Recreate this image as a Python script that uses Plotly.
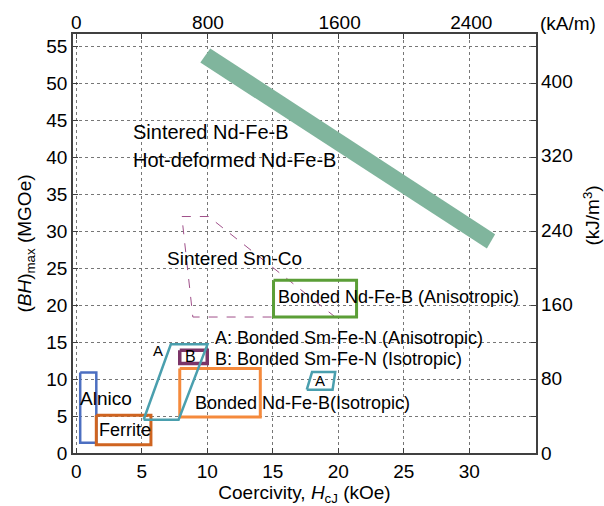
import plotly.graph_objects as go

# ---- data (kOe, MGOe) ----
nd_sint_x = [10.23, 31.98, 31.35, 9.47]
nd_sint_y = [54.75, 29.6, 27.66, 52.85]

smco_x = [8.06, 10.1, 19.77, 8.9, 8.06]
smco_y = [32.0, 32.0, 18.4, 18.4, 32.0]

nd_aniso_x = [15.06, 21.4, 21.4, 15.06, 15.06]
nd_aniso_y = [23.37, 23.37, 18.4, 18.4, 23.37]

alnico_x = [0.3, 1.53, 1.53, 0.3, 0.3]
alnico_y = [10.9, 10.9, 1.4, 1.4, 10.9]

ferrite_x = [1.53, 5.7, 5.7, 1.53, 1.53]
ferrite_y = [5.1, 5.1, 1.12, 1.12, 5.1]

nd_iso_x = [7.9, 14.05, 14.05, 7.9, 7.9]
nd_iso_y = [11.45, 11.45, 4.87, 4.87, 11.45]

smfen_b_x = [7.9, 10.0, 10.0, 7.9, 7.9]
smfen_b_y = [13.9, 13.9, 12.1, 12.1, 13.9]

smfen_a_x = [5.14, 7.22, 10.02, 7.81, 5.14]
smfen_a_y = [4.5, 14.7, 14.7, 4.5, 4.5]

smfen_a2_x = [17.6, 18.0, 19.77, 19.57, 17.6]
smfen_a2_y = [8.57, 10.95, 10.95, 8.57, 8.57]

x_ticks = [0, 5, 10, 15, 20, 25, 30]
y_ticks = [0, 5, 10, 15, 20, 25, 30, 35, 40, 45, 50, 55]
top_ticks = [0, 800, 1600, 2400]          # kA/m
right_ticks = [0, 80, 160, 240, 320, 400]  # kJ/m3

KOE_TO_KAM = 79.577
MGOE_TO_KJM3 = 7.9577
x_range = [-0.25, 35.1]
y_range = [0, 56.7]

FONT = "Liberation Sans, Arial, sans-serif"

fig = go.Figure()

fig.add_trace(go.Scatter(x=nd_sint_x, y=nd_sint_y, fill="toself", fillcolor="#80b59d",
                         line=dict(width=0, color="#80b59d"), mode="lines", hoverinfo="skip"))
fig.add_trace(go.Scatter(x=smco_x, y=smco_y, mode="lines",
                         line=dict(color="#a0508a", width=1, dash="dash")))

def box(xs, ys, color, w):
    fig.add_trace(go.Scatter(x=xs, y=ys, mode="lines", line=dict(color=color, width=w)))

box(nd_aniso_x, nd_aniso_y, "#5b9e37", 3)
box(alnico_x, alnico_y, "#4c6fc1", 2.5)
box(ferrite_x, ferrite_y, "#cf6420", 3)
box(nd_iso_x, nd_iso_y, "#f58a3c", 3)
box(smfen_b_x, smfen_b_y, "#7b3568", 3.5)
box(smfen_a_x, smfen_a_y, "#4a9fae", 2.5)
box(smfen_a2_x, smfen_a2_y, "#4a9fae", 2.5)

# invisible trace to activate secondary axes
fig.add_trace(go.Scatter(x=[None], y=[None], xaxis="x2", yaxis="y2", showlegend=False))

def ann(text, x, y, size=19, anchor="left"):
    fig.add_annotation(text=text, x=x, y=y, xref="x", yref="y", showarrow=False,
                       xanchor=anchor, yanchor="middle", font=dict(size=size, color="black", family=FONT))

ann("Sintered Nd-Fe-B", 4.2, 43.5, 20)
ann("Hot-deformed Nd-Fe-B", 4.2, 39.6, 20)
ann("Sintered Sm-Co", 6.8, 26.3, 19)
ann("Bonded Nd-Fe-B (Anisotropic)", 15.27, 21.05, 18)
ann("A: Bonded Sm-Fe-N (Anisotropic)", 10.46, 15.5, 18)
ann("B: Bonded Sm-Fe-N (Isotropic)", 10.46, 12.67, 18)
ann("A", 6.26, 13.9, 15, "center")
ann("B", 8.7, 13.1, 16, "center")
ann("A", 18.63, 9.8, 15, "center")
ann("Alnico", 0.15, 7.4, 19)
ann("Ferrite", 1.6, 3.06, 18)
ann("Bonded Nd-Fe-B(Isotropic)", 8.93, 6.7, 18)

fig.add_annotation(text="(kA/m)", xref="paper", yref="paper", x=1.069, y=1.0, yshift=11,
                   xanchor="center", yanchor="middle", showarrow=False,
                   font=dict(size=19, color="black", family=FONT))
fig.add_annotation(text="(kJ/m<sup>3</sup>)", xref="paper", yref="paper", x=1.0, xshift=55, y=0.5, yshift=28,
                   xanchor="center", yanchor="middle", showarrow=False, textangle=-90,
                   font=dict(size=19, color="black", family=FONT))

axis_common = dict(showline=True, linecolor="#404040", linewidth=1.5, automargin=False,
                   tickfont=dict(size=19, color="black", family=FONT), zeroline=False)

fig.update_layout(
    width=604, height=506,
    margin=dict(l=73, r=68, t=34, b=53),
    paper_bgcolor="white", plot_bgcolor="white",
    showlegend=False,
    font=dict(family=FONT, color="black"),
    xaxis=dict(range=x_range, tickvals=x_ticks, ticks="inside", ticklen=5, tickcolor="#404040",
               mirror="ticks", showgrid=True, gridcolor="#777777", griddash="dot", gridwidth=1,
               title=dict(text="Coercivity, <i>H</i><sub>cJ</sub> (kOe)",
                          font=dict(size=19, family=FONT, color="black"), standoff=4),
               **axis_common),
    yaxis=dict(range=y_range, tickvals=y_ticks, ticks="inside", ticklen=5, tickcolor="#404040",
               mirror="ticks", showgrid=True, gridcolor="#777777", griddash="dot", gridwidth=1,
               title=dict(text="(<i>BH</i>)<sub>max</sub> (MGOe)",
                          font=dict(size=19, family=FONT, color="black"), standoff=10),
               **axis_common),
    xaxis2=dict(overlaying="x", side="top", range=[v * KOE_TO_KAM for v in x_range],
                tickvals=top_ticks, ticks="", showgrid=False, showline=False, zeroline=False,
                automargin=False, tickfont=dict(size=19, color="black", family=FONT)),
    yaxis2=dict(overlaying="y", side="right", range=[v * MGOE_TO_KJM3 for v in y_range],
                tickvals=right_ticks, ticks="", showgrid=False, showline=False, zeroline=False,
                automargin=False, ticklabelstandoff=4,
                tickfont=dict(size=19, color="black", family=FONT)),
)

fig.write_html("out.html", config={"displayModeBar": False},
               post_script="document.body.style.margin='0';document.body.style.overflow='hidden';")
